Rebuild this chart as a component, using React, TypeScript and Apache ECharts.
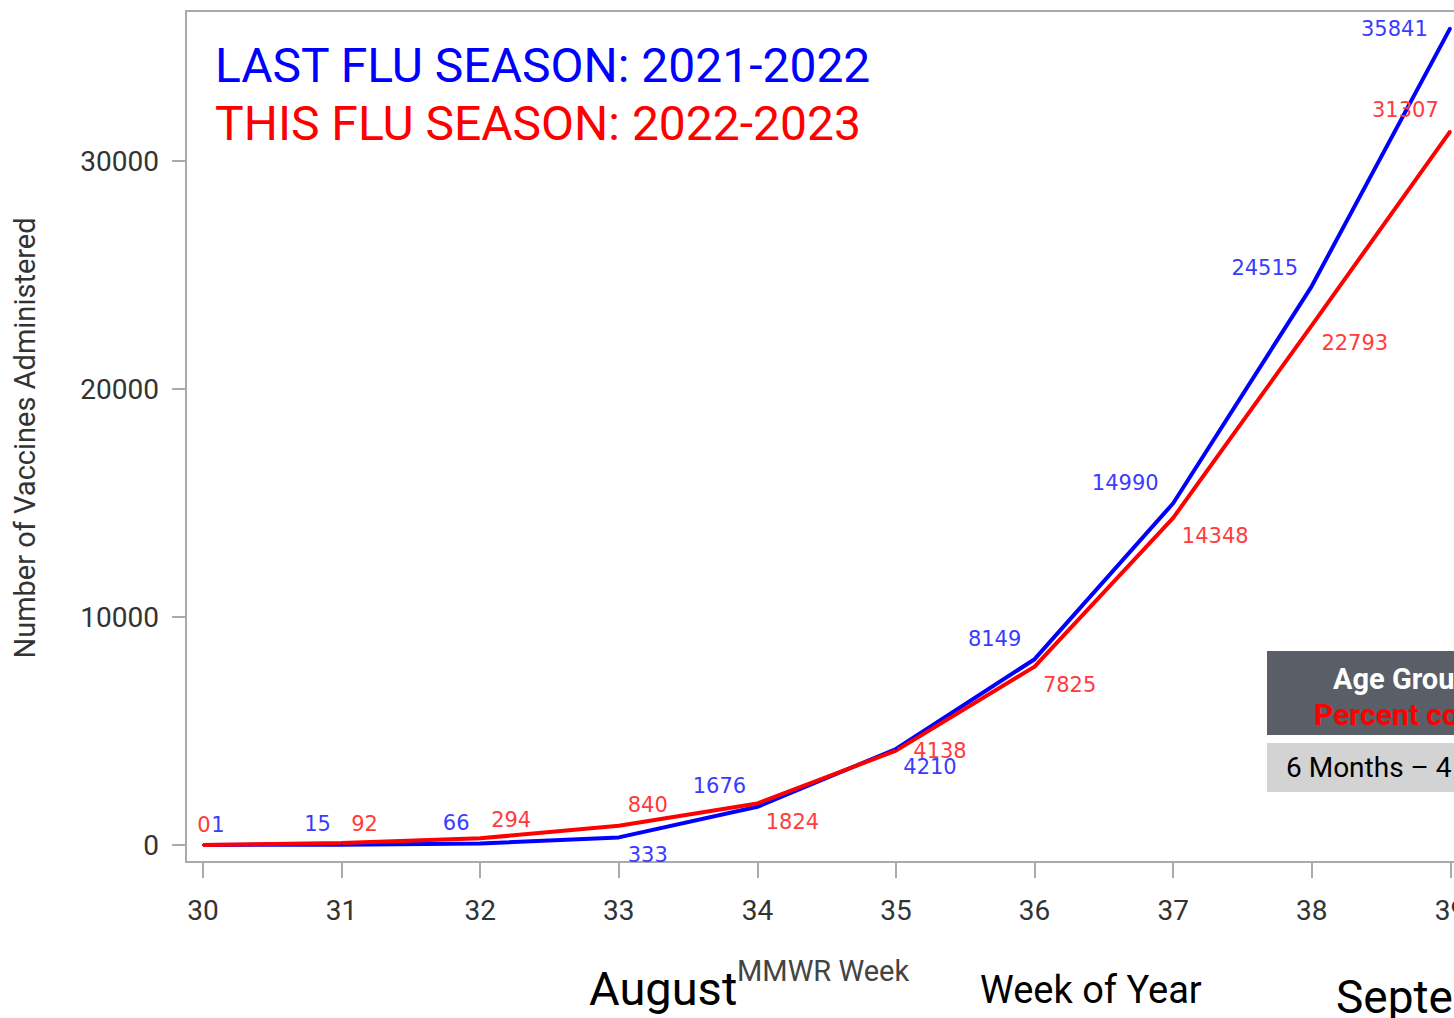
import React, { useEffect, useRef } from "react";
import * as echarts from "echarts";

const weeks = [30, 31, 32, 33, 34, 35, 36, 37, 38, 39];
const lastSeason = [1, 15, 66, 333, 1676, 4210, 8149, 14990, 24515, 35841];
const thisSeason = [0, 92, 294, 840, 1824, 4138, 7825, 14348, 22793, 31307];
const xTicks = { min: 30, max: 40, interval: 1 };
const yTicks = { min: 0, max: 40000, interval: 10000 };

// label offsets from each point (label placement only)
const lastLabelOffsets = [
  [15, -20], [-24, -21], [-24, -20], [29, 18], [-38, -21],
  [34, 18], [-40, -20], [-48, -20], [-47, -18], [-56, 1],
];
const thisLabelOffsets = [
  [1, -20], [23, -19], [31, -18], [29, -21], [35, 19],
  [44, 0], [35, 18], [42, 18], [43, 18], [-45, -21],
];

const BLUE = "#0000ff";
const RED = "#ff0000";
const OY = 100; // chart canvas is shifted up by this much inside the clipping frame

function buildData(values: number[], offsets: number[][]) {
  return weeks.map((w, i) => ({
    value: [w, values[i]],
    label: { offset: offsets[i] },
  }));
}

export default function App() {
  const ref = useRef<HTMLDivElement>(null);
  useEffect(() => {
    if (!ref.current) return;
    const chart = echarts.init(ref.current, null, { renderer: "svg" });
    const labelBase = (color: string) => ({
      show: true,
      position: "inside",
      color,
      fontSize: 21,
      fontFamily: "DejaVu Sans",
      formatter: (p: any) => String(p.value[1]),
    });
    const txt = (x: number, y: number, text: string, fill: string, fontSize: number, extra: any = {}) => ({
      type: "text",
      x,
      y: y + OY,
      ...(extra.rotation !== undefined ? { rotation: extra.rotation } : {}),
      style: {
        text,
        fill,
        fontSize,
        fontFamily: "Roboto",
        fontWeight: extra.fontWeight || "normal",
        align: extra.align || "left",
        verticalAlign: "middle",
      },
    });
    chart.setOption({
      animation: false,
      backgroundColor: "#ffffff",
      grid: { left: 203, top: -67 + OY, width: 1386, height: 912 },
      xAxis: {
        type: "value",
        min: xTicks.min,
        max: xTicks.max,
        interval: xTicks.interval,
        offset: 17,
        axisLine: { show: false, onZero: false },
        axisTick: { show: true, length: 16, lineStyle: { color: "#aaaaaa", width: 2 } },
        axisLabel: { fontSize: 28, color: "#333333", fontFamily: "Roboto", margin: 34, showMaxLabel: false, formatter: (v: number) => String(v) },
        splitLine: { show: false },
      },
      yAxis: {
        type: "value",
        min: yTicks.min,
        max: yTicks.max,
        interval: yTicks.interval,
        offset: 17,
        axisLine: { show: false, onZero: false },
        axisTick: { show: true, length: 14, lineStyle: { color: "#aaaaaa", width: 2 } },
        axisLabel: { fontSize: 28, color: "#333333", fontFamily: "Roboto", margin: 27, showMaxLabel: false, formatter: (v: number) => String(v) },
        splitLine: { show: false },
      },
      series: [
        {
          name: "LAST FLU SEASON: 2021-2022",
          type: "line",
          clip: false,
          symbol: "circle",
          symbolSize: 2,
          showSymbol: true,
          lineStyle: { color: BLUE, width: 4 },
          itemStyle: { color: BLUE },
          label: labelBase("#3b3bff"),
          data: buildData(lastSeason, lastLabelOffsets),
        },
        {
          name: "THIS FLU SEASON: 2022-2023",
          type: "line",
          clip: false,
          symbol: "circle",
          symbolSize: 2,
          showSymbol: true,
          lineStyle: { color: RED, width: 4 },
          itemStyle: { color: RED },
          label: labelBase("#ff3b3b"),
          data: buildData(thisSeason, thisLabelOffsets),
        },
      ],
      graphic: [
        {
          type: "polyline",
          shape: { points: [[1650, 11 + OY], [186, 11 + OY], [186, 862 + OY], [1650, 862 + OY]] },
          style: { stroke: "#aaaaaa", lineWidth: 2, fill: null },
          z: 1,
        },
        txt(215, 65, "LAST FLU SEASON: 2021-2022", BLUE, 48),
        txt(215, 123, "THIS FLU SEASON: 2022-2023", RED, 48),
        txt(25, 438, "Number of Vaccines Administered", "#333333", 29, { rotation: Math.PI / 2, align: "center" }),
        txt(737, 971, "MMWR Week", "#444444", 29),
        txt(589, 988, "August", "#000000", 47),
        txt(980, 990, "Week of Year", "#000000", 38),
        txt(1336, 997, "September", "#000000", 46),
        {
          type: "rect", shape: { x: 1267, y: 651 + OY, width: 400, height: 84 },
          style: { fill: "#5a5f67" },
        },
        {
          type: "rect", shape: { x: 1267, y: 743 + OY, width: 400, height: 49 },
          style: { fill: "#d3d3d3" },
        },
        txt(1333, 679, "Age Group", "#ffffff", 29, { fontWeight: "bold" }),
        txt(1314, 714, "Percent coverage", "#ff0000", 30, { fontWeight: "bold" }),
        txt(1286, 767, "6 Months – 4 Years", "#000000", 28),
      ],
    });
    return () => chart.dispose();
  }, []);
  return (
    <div style={{ position: "absolute", left: 0, top: 0, width: 1454, height: 1018, overflow: "hidden", background: "#fff" }}>
      <div ref={ref} style={{ position: "absolute", left: 0, top: -OY, width: 1700, height: 1018 + OY + 20 }} />
    </div>
  );
}
